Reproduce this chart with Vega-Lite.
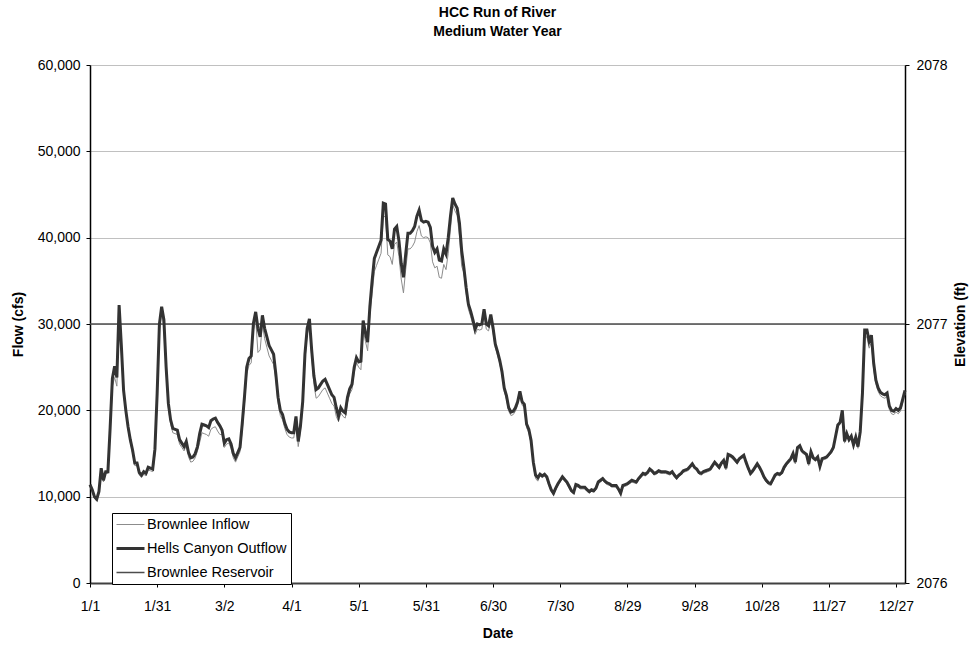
{
"$schema": "https://vega.github.io/schema/vega-lite/v6.json",
"width": 815,
"height": 518,
"autosize": {"type": "none"},
"padding": {"left": 90, "top": 65, "right": 66, "bottom": 66},
"background": "white",
"title": {"text": ["HCC Run of River", "Medium Water Year"], "font": "Liberation Sans", "fontSize": 14, "fontWeight": "bold", "color": "#000", "anchor": "middle", "frame": "group", "baseline": "bottom", "lineHeight": 19, "offset": 5},
"config": {
  "font": "Liberation Sans",
  "view": {"stroke": "#888888", "strokeWidth": 1},
  "axis": {"labelFont": "Liberation Sans", "labelFontSize": 14, "labelColor": "#000", "titleFont": "Liberation Sans", "titleFontSize": 14, "titleFontWeight": "bold", "titleColor": "#000", "tickColor": "#000", "domainColor": "#000", "labelFlush": false, "labelOverlap": false}
},
"datasets": {
  "flow": [
{"date":"2001-01-01","inflow":11200,"outflow":11400},{"date":"2001-01-02","inflow":10600,"outflow":10800},{"date":"2001-01-03","inflow":9800,"outflow":10000},{"date":"2001-01-04","inflow":9500,"outflow":9700},{"date":"2001-01-05","inflow":10400,"outflow":10600},{"date":"2001-01-06","inflow":13100,"outflow":13300},{"date":"2001-01-07","inflow":11700,"outflow":11900},{"date":"2001-01-08","inflow":12700,"outflow":12900},{"date":"2001-01-09","inflow":12700,"outflow":12900},{"date":"2001-01-10","inflow":17400,"outflow":18000},{"date":"2001-01-11","inflow":22800,"outflow":23700},{"date":"2001-01-12","inflow":23800,"outflow":25100},{"date":"2001-01-13","inflow":22800,"outflow":23800},{"date":"2001-01-14","inflow":31400,"outflow":32200},{"date":"2001-01-15","inflow":26800,"outflow":27500},{"date":"2001-01-16","inflow":22000,"outflow":22300},{"date":"2001-01-17","inflow":19700,"outflow":20000},{"date":"2001-01-18","inflow":17800,"outflow":18100},{"date":"2001-01-19","inflow":16300,"outflow":16600},{"date":"2001-01-20","inflow":15100,"outflow":15400},{"date":"2001-01-21","inflow":13600,"outflow":13900},{"date":"2001-01-22","inflow":13600,"outflow":13900},{"date":"2001-01-23","inflow":12500,"outflow":12800},{"date":"2001-01-24","inflow":12200,"outflow":12500},{"date":"2001-01-25","inflow":12600,"outflow":12900},{"date":"2001-01-26","inflow":12400,"outflow":12700},{"date":"2001-01-27","inflow":13100,"outflow":13400},{"date":"2001-01-28","inflow":13000,"outflow":13300},{"date":"2001-01-29","inflow":12900,"outflow":13200},{"date":"2001-01-30","inflow":14900,"outflow":15500},{"date":"2001-01-31","inflow":21400,"outflow":22000},
{"date":"2001-02-01","inflow":29400,"outflow":30000},{"date":"2001-02-02","inflow":31400,"outflow":32000},{"date":"2001-02-03","inflow":29500,"outflow":30500},{"date":"2001-02-04","inflow":24400,"outflow":25000},{"date":"2001-02-05","inflow":20300,"outflow":20800},{"date":"2001-02-06","inflow":18400,"outflow":18900},{"date":"2001-02-07","inflow":17400,"outflow":17900},{"date":"2001-02-08","inflow":17300,"outflow":17800},{"date":"2001-02-09","inflow":17200,"outflow":17700},{"date":"2001-02-10","inflow":16100,"outflow":16600},{"date":"2001-02-11","inflow":15700,"outflow":16200},{"date":"2001-02-12","inflow":15300,"outflow":15800},{"date":"2001-02-13","inflow":15900,"outflow":16400},{"date":"2001-02-14","inflow":14600,"outflow":15100},{"date":"2001-02-15","inflow":14000,"outflow":14500},{"date":"2001-02-16","inflow":14100,"outflow":14600},{"date":"2001-02-17","inflow":14500,"outflow":15000},{"date":"2001-02-18","inflow":15300,"outflow":15800},{"date":"2001-02-19","inflow":16300,"outflow":17300},{"date":"2001-02-20","inflow":17400,"outflow":18400},{"date":"2001-02-21","inflow":17300,"outflow":18300},{"date":"2001-02-22","inflow":17200,"outflow":18200},{"date":"2001-02-23","inflow":17000,"outflow":18000},{"date":"2001-02-24","inflow":17800,"outflow":18800},{"date":"2001-02-25","inflow":18000,"outflow":19000},{"date":"2001-02-26","inflow":18100,"outflow":19100},{"date":"2001-02-27","inflow":17600,"outflow":18600},{"date":"2001-02-28","inflow":17200,"outflow":18200},
{"date":"2001-03-01","inflow":17200,"outflow":17700},{"date":"2001-03-02","inflow":15700,"outflow":16200},{"date":"2001-03-03","inflow":16100,"outflow":16600},{"date":"2001-03-04","inflow":16200,"outflow":16700},{"date":"2001-03-05","inflow":15600,"outflow":16100},{"date":"2001-03-06","inflow":14500,"outflow":15000},{"date":"2001-03-07","inflow":14000,"outflow":14500},{"date":"2001-03-08","inflow":14600,"outflow":15100},{"date":"2001-03-09","inflow":15200,"outflow":15700},{"date":"2001-03-10","inflow":17700,"outflow":18500},{"date":"2001-03-11","inflow":20800,"outflow":21600},{"date":"2001-03-12","inflow":24200,"outflow":25000},{"date":"2001-03-13","inflow":25200,"outflow":26000},{"date":"2001-03-14","inflow":25500,"outflow":26300},{"date":"2001-03-15","inflow":29300,"outflow":30100},{"date":"2001-03-16","inflow":30600,"outflow":31400},{"date":"2001-03-17","inflow":26700,"outflow":29500},{"date":"2001-03-18","inflow":27000,"outflow":28500},{"date":"2001-03-19","inflow":30000,"outflow":31000},{"date":"2001-03-20","inflow":28300,"outflow":29500},{"date":"2001-03-21","inflow":27300,"outflow":28500},{"date":"2001-03-22","inflow":26300,"outflow":27500},{"date":"2001-03-23","inflow":25800,"outflow":27000},{"date":"2001-03-24","inflow":25300,"outflow":26500},{"date":"2001-03-25","inflow":23600,"outflow":24200},{"date":"2001-03-26","inflow":20900,"outflow":21500},{"date":"2001-03-27","inflow":19400,"outflow":20000},{"date":"2001-03-28","inflow":18900,"outflow":19500},{"date":"2001-03-29","inflow":17900,"outflow":18500},{"date":"2001-03-30","inflow":17200,"outflow":17800},{"date":"2001-03-31","inflow":16900,"outflow":17500},
{"date":"2001-04-01","inflow":16800,"outflow":17400},{"date":"2001-04-02","inflow":16800,"outflow":17400},{"date":"2001-04-03","inflow":18700,"outflow":19300},{"date":"2001-04-04","inflow":15800,"outflow":16400},{"date":"2001-04-05","inflow":17600,"outflow":18200},{"date":"2001-04-06","inflow":20400,"outflow":21000},{"date":"2001-04-07","inflow":25800,"outflow":26500},{"date":"2001-04-08","inflow":28800,"outflow":29500},{"date":"2001-04-09","inflow":29900,"outflow":30600},{"date":"2001-04-10","inflow":26300,"outflow":27000},{"date":"2001-04-11","inflow":23000,"outflow":24000},{"date":"2001-04-12","inflow":21400,"outflow":22400},{"date":"2001-04-13","inflow":21600,"outflow":22600},{"date":"2001-04-14","inflow":22000,"outflow":23000},{"date":"2001-04-15","inflow":22400,"outflow":23400},{"date":"2001-04-16","inflow":22600,"outflow":23600},{"date":"2001-04-17","inflow":22000,"outflow":23000},{"date":"2001-04-18","inflow":21400,"outflow":22400},{"date":"2001-04-19","inflow":20800,"outflow":21800},{"date":"2001-04-20","inflow":20500,"outflow":21500},{"date":"2001-04-21","inflow":19300,"outflow":20300},{"date":"2001-04-22","inflow":18700,"outflow":19300},{"date":"2001-04-23","inflow":19700,"outflow":20300},{"date":"2001-04-24","inflow":19300,"outflow":19900},{"date":"2001-04-25","inflow":19100,"outflow":19700},{"date":"2001-04-26","inflow":20900,"outflow":21500},{"date":"2001-04-27","inflow":21900,"outflow":22500},{"date":"2001-04-28","inflow":22400,"outflow":23000},{"date":"2001-04-29","inflow":24400,"outflow":25000},{"date":"2001-04-30","inflow":25500,"outflow":26100},
{"date":"2001-05-01","inflow":25000,"outflow":25600},{"date":"2001-05-02","inflow":24700,"outflow":25700},{"date":"2001-05-03","inflow":29400,"outflow":30400},{"date":"2001-05-04","inflow":28000,"outflow":29000},{"date":"2001-05-05","inflow":26900,"outflow":27900},{"date":"2001-05-06","inflow":31000,"outflow":32000},{"date":"2001-05-07","inflow":33500,"outflow":35000},{"date":"2001-05-08","inflow":36100,"outflow":37600},{"date":"2001-05-09","inflow":36800,"outflow":38300},{"date":"2001-05-10","inflow":37500,"outflow":39000},{"date":"2001-05-11","inflow":38200,"outflow":39700},{"date":"2001-05-12","inflow":42500,"outflow":44000},{"date":"2001-05-13","inflow":42400,"outflow":43900},{"date":"2001-05-14","inflow":38000,"outflow":39800},{"date":"2001-05-15","inflow":37800,"outflow":39600},{"date":"2001-05-16","inflow":36900,"outflow":38700},{"date":"2001-05-17","inflow":39200,"outflow":41000},{"date":"2001-05-18","inflow":39500,"outflow":41300},{"date":"2001-05-19","inflow":37800,"outflow":39600},{"date":"2001-05-20","inflow":35200,"outflow":37000},{"date":"2001-05-21","inflow":33600,"outflow":35400},{"date":"2001-05-22","inflow":36300,"outflow":38100},{"date":"2001-05-23","inflow":38700,"outflow":40500},{"date":"2001-05-24","inflow":38700,"outflow":40500},{"date":"2001-05-25","inflow":39000,"outflow":40800},{"date":"2001-05-26","inflow":39500,"outflow":41300},{"date":"2001-05-27","inflow":40700,"outflow":42500},{"date":"2001-05-28","inflow":41400,"outflow":43200},{"date":"2001-05-29","inflow":40200,"outflow":42000},{"date":"2001-05-30","inflow":40000,"outflow":41800},{"date":"2001-05-31","inflow":40100,"outflow":41900},
{"date":"2001-06-01","inflow":40000,"outflow":41800},{"date":"2001-06-02","inflow":39400,"outflow":41200},{"date":"2001-06-03","inflow":37200,"outflow":39000},{"date":"2001-06-04","inflow":36500,"outflow":38300},{"date":"2001-06-05","inflow":36700,"outflow":38700},{"date":"2001-06-06","inflow":35400,"outflow":37400},{"date":"2001-06-07","inflow":35300,"outflow":37300},{"date":"2001-06-08","inflow":36900,"outflow":38700},{"date":"2001-06-09","inflow":36300,"outflow":38100},{"date":"2001-06-10","inflow":38200,"outflow":40000},{"date":"2001-06-11","inflow":41000,"outflow":42500},{"date":"2001-06-12","inflow":43800,"outflow":44600},{"date":"2001-06-13","inflow":43100,"outflow":43900},{"date":"2001-06-14","inflow":42600,"outflow":43400},{"date":"2001-06-15","inflow":40200,"outflow":41700},{"date":"2001-06-16","inflow":36700,"outflow":38500},{"date":"2001-06-17","inflow":35900,"outflow":36500},{"date":"2001-06-18","inflow":33600,"outflow":34200},{"date":"2001-06-19","inflow":31700,"outflow":32300},{"date":"2001-06-20","inflow":30900,"outflow":31500},{"date":"2001-06-21","inflow":29900,"outflow":30500},{"date":"2001-06-22","inflow":28800,"outflow":29400},{"date":"2001-06-23","inflow":29400,"outflow":30000},{"date":"2001-06-24","inflow":29300,"outflow":29900},{"date":"2001-06-25","inflow":29400,"outflow":30000},{"date":"2001-06-26","inflow":31100,"outflow":31700},{"date":"2001-06-27","inflow":29400,"outflow":30000},{"date":"2001-06-28","inflow":29200,"outflow":29800},{"date":"2001-06-29","inflow":30500,"outflow":31100},{"date":"2001-06-30","inflow":29000,"outflow":29600},
{"date":"2001-07-01","inflow":27300,"outflow":27700},{"date":"2001-07-02","inflow":26400,"outflow":26800},{"date":"2001-07-03","inflow":25400,"outflow":25800},{"date":"2001-07-04","inflow":24100,"outflow":24500},{"date":"2001-07-05","inflow":22200,"outflow":22600},{"date":"2001-07-06","inflow":21300,"outflow":21700},{"date":"2001-07-07","inflow":19900,"outflow":20300},{"date":"2001-07-08","inflow":19400,"outflow":19800},{"date":"2001-07-09","inflow":19500,"outflow":19900},{"date":"2001-07-10","inflow":19900,"outflow":20300},{"date":"2001-07-11","inflow":20600,"outflow":21000},{"date":"2001-07-12","inflow":21800,"outflow":22200},{"date":"2001-07-13","inflow":20600,"outflow":21000},{"date":"2001-07-14","inflow":20300,"outflow":20700},{"date":"2001-07-15","inflow":18000,"outflow":18400},{"date":"2001-07-16","inflow":17400,"outflow":17800},{"date":"2001-07-17","inflow":16100,"outflow":16500},{"date":"2001-07-18","inflow":13600,"outflow":14000},{"date":"2001-07-19","inflow":12100,"outflow":12500},{"date":"2001-07-20","inflow":11800,"outflow":12200},{"date":"2001-07-21","inflow":12400,"outflow":12600},{"date":"2001-07-22","inflow":12200,"outflow":12400},{"date":"2001-07-23","inflow":12400,"outflow":12600},{"date":"2001-07-24","inflow":12100,"outflow":12300},{"date":"2001-07-25","inflow":11300,"outflow":11500},{"date":"2001-07-26","inflow":10600,"outflow":10800},{"date":"2001-07-27","inflow":10200,"outflow":10400},{"date":"2001-07-28","inflow":10800,"outflow":11000},{"date":"2001-07-29","inflow":11300,"outflow":11500},{"date":"2001-07-30","inflow":11700,"outflow":11900},{"date":"2001-07-31","inflow":12100,"outflow":12300},
{"date":"2001-08-01","inflow":11800,"outflow":12000},{"date":"2001-08-02","inflow":11500,"outflow":11700},{"date":"2001-08-03","inflow":11000,"outflow":11200},{"date":"2001-08-04","inflow":10500,"outflow":10700},{"date":"2001-08-05","inflow":10300,"outflow":10500},{"date":"2001-08-06","inflow":11200,"outflow":11400},{"date":"2001-08-07","inflow":11100,"outflow":11300},{"date":"2001-08-08","inflow":10900,"outflow":11100},{"date":"2001-08-09","inflow":10900,"outflow":11100},{"date":"2001-08-10","inflow":10900,"outflow":11100},{"date":"2001-08-11","inflow":10600,"outflow":10800},{"date":"2001-08-12","inflow":10400,"outflow":10600},{"date":"2001-08-13","inflow":10600,"outflow":10800},{"date":"2001-08-14","inflow":10500,"outflow":10700},{"date":"2001-08-15","inflow":10800,"outflow":11000},{"date":"2001-08-16","inflow":11500,"outflow":11700},{"date":"2001-08-17","inflow":11700,"outflow":11900},{"date":"2001-08-18","inflow":11900,"outflow":12100},{"date":"2001-08-19","inflow":11600,"outflow":11800},{"date":"2001-08-20","inflow":11400,"outflow":11600},{"date":"2001-08-21","inflow":11300,"outflow":11500},{"date":"2001-08-22","inflow":11100,"outflow":11300},{"date":"2001-08-23","inflow":11100,"outflow":11300},{"date":"2001-08-24","inflow":11100,"outflow":11300},{"date":"2001-08-25","inflow":10700,"outflow":10900},{"date":"2001-08-26","inflow":10200,"outflow":10400},{"date":"2001-08-27","inflow":11100,"outflow":11300},{"date":"2001-08-28","inflow":11200,"outflow":11400},{"date":"2001-08-29","inflow":11300,"outflow":11500},{"date":"2001-08-30","inflow":11500,"outflow":11700},{"date":"2001-08-31","inflow":11700,"outflow":11900},
{"date":"2001-09-01","inflow":11600,"outflow":11800},{"date":"2001-09-02","inflow":11500,"outflow":11700},{"date":"2001-09-03","inflow":11900,"outflow":12100},{"date":"2001-09-04","inflow":12200,"outflow":12400},{"date":"2001-09-05","inflow":12500,"outflow":12700},{"date":"2001-09-06","inflow":12400,"outflow":12600},{"date":"2001-09-07","inflow":12600,"outflow":12800},{"date":"2001-09-08","inflow":13000,"outflow":13200},{"date":"2001-09-09","inflow":12800,"outflow":13000},{"date":"2001-09-10","inflow":12500,"outflow":12700},{"date":"2001-09-11","inflow":12600,"outflow":12800},{"date":"2001-09-12","inflow":12800,"outflow":13000},{"date":"2001-09-13","inflow":12700,"outflow":12900},{"date":"2001-09-14","inflow":12700,"outflow":12900},{"date":"2001-09-15","inflow":12700,"outflow":12900},{"date":"2001-09-16","inflow":12600,"outflow":12800},{"date":"2001-09-17","inflow":12500,"outflow":12700},{"date":"2001-09-18","inflow":12700,"outflow":12900},{"date":"2001-09-19","inflow":12300,"outflow":12500},{"date":"2001-09-20","inflow":12000,"outflow":12200},{"date":"2001-09-21","inflow":12300,"outflow":12500},{"date":"2001-09-22","inflow":12500,"outflow":12700},{"date":"2001-09-23","inflow":12800,"outflow":13000},{"date":"2001-09-24","inflow":12900,"outflow":13100},{"date":"2001-09-25","inflow":13000,"outflow":13200},{"date":"2001-09-26","inflow":13300,"outflow":13500},{"date":"2001-09-27","inflow":13600,"outflow":13800},{"date":"2001-09-28","inflow":13200,"outflow":13400},{"date":"2001-09-29","inflow":13000,"outflow":13200},{"date":"2001-09-30","inflow":12600,"outflow":12800},
{"date":"2001-10-01","inflow":12500,"outflow":12700},{"date":"2001-10-02","inflow":12700,"outflow":12900},{"date":"2001-10-03","inflow":12800,"outflow":13000},{"date":"2001-10-04","inflow":12900,"outflow":13100},{"date":"2001-10-05","inflow":13000,"outflow":13200},{"date":"2001-10-06","inflow":13400,"outflow":13600},{"date":"2001-10-07","inflow":13800,"outflow":14000},{"date":"2001-10-08","inflow":13500,"outflow":13700},{"date":"2001-10-09","inflow":13200,"outflow":13400},{"date":"2001-10-10","inflow":13700,"outflow":13900},{"date":"2001-10-11","inflow":14000,"outflow":14200},{"date":"2001-10-12","inflow":13100,"outflow":13300},{"date":"2001-10-13","inflow":14700,"outflow":14900},{"date":"2001-10-14","inflow":14600,"outflow":14800},{"date":"2001-10-15","inflow":14400,"outflow":14600},{"date":"2001-10-16","inflow":14100,"outflow":14300},{"date":"2001-10-17","inflow":13800,"outflow":14000},{"date":"2001-10-18","inflow":14200,"outflow":14400},{"date":"2001-10-19","inflow":14400,"outflow":14600},{"date":"2001-10-20","inflow":14600,"outflow":14800},{"date":"2001-10-21","inflow":13800,"outflow":14000},{"date":"2001-10-22","inflow":13100,"outflow":13300},{"date":"2001-10-23","inflow":12500,"outflow":12700},{"date":"2001-10-24","inflow":12800,"outflow":13000},{"date":"2001-10-25","inflow":13200,"outflow":13400},{"date":"2001-10-26","inflow":13600,"outflow":13800},{"date":"2001-10-27","inflow":13200,"outflow":13400},{"date":"2001-10-28","inflow":12700,"outflow":12900},{"date":"2001-10-29","inflow":12100,"outflow":12300},{"date":"2001-10-30","inflow":11700,"outflow":11900},{"date":"2001-10-31","inflow":11400,"outflow":11600},
{"date":"2001-11-01","inflow":11300,"outflow":11500},{"date":"2001-11-02","inflow":11800,"outflow":12000},{"date":"2001-11-03","inflow":12300,"outflow":12500},{"date":"2001-11-04","inflow":12500,"outflow":12700},{"date":"2001-11-05","inflow":12400,"outflow":12600},{"date":"2001-11-06","inflow":12600,"outflow":12800},{"date":"2001-11-07","inflow":13200,"outflow":13400},{"date":"2001-11-08","inflow":13600,"outflow":13800},{"date":"2001-11-09","inflow":13900,"outflow":14100},{"date":"2001-11-10","inflow":14200,"outflow":14400},{"date":"2001-11-11","inflow":14800,"outflow":15000},{"date":"2001-11-12","inflow":13800,"outflow":14000},{"date":"2001-11-13","inflow":15500,"outflow":15700},{"date":"2001-11-14","inflow":15700,"outflow":15900},{"date":"2001-11-15","inflow":15100,"outflow":15300},{"date":"2001-11-16","inflow":14900,"outflow":15100},{"date":"2001-11-17","inflow":14700,"outflow":14900},{"date":"2001-11-18","inflow":13600,"outflow":13800},{"date":"2001-11-19","inflow":15000,"outflow":15200},{"date":"2001-11-20","inflow":14300,"outflow":14500},{"date":"2001-11-21","inflow":14100,"outflow":14300},{"date":"2001-11-22","inflow":14400,"outflow":14600},{"date":"2001-11-23","inflow":13300,"outflow":13500},{"date":"2001-11-24","inflow":14200,"outflow":14400},{"date":"2001-11-25","inflow":14300,"outflow":14500},{"date":"2001-11-26","inflow":14400,"outflow":14600},{"date":"2001-11-27","inflow":14700,"outflow":14900},{"date":"2001-11-28","inflow":15000,"outflow":15200},{"date":"2001-11-29","inflow":15500,"outflow":15700},{"date":"2001-11-30","inflow":16800,"outflow":17000},
{"date":"2001-12-01","inflow":18100,"outflow":18300},{"date":"2001-12-02","inflow":18400,"outflow":18600},{"date":"2001-12-03","inflow":19800,"outflow":20000},{"date":"2001-12-04","inflow":16200,"outflow":16400},{"date":"2001-12-05","inflow":17100,"outflow":17300},{"date":"2001-12-06","inflow":16400,"outflow":16600},{"date":"2001-12-07","inflow":16800,"outflow":17000},{"date":"2001-12-08","inflow":15800,"outflow":16000},{"date":"2001-12-09","inflow":16700,"outflow":16900},{"date":"2001-12-10","inflow":15600,"outflow":15800},{"date":"2001-12-11","inflow":17300,"outflow":17500},{"date":"2001-12-12","inflow":21200,"outflow":22000},{"date":"2001-12-13","inflow":28500,"outflow":29300},{"date":"2001-12-14","inflow":28500,"outflow":29300},{"date":"2001-12-15","inflow":27200,"outflow":28000},{"date":"2001-12-16","inflow":27900,"outflow":28700},{"date":"2001-12-17","inflow":24700,"outflow":25500},{"date":"2001-12-18","inflow":23100,"outflow":23500},{"date":"2001-12-19","inflow":22200,"outflow":22600},{"date":"2001-12-20","inflow":21700,"outflow":22100},{"date":"2001-12-21","inflow":21500,"outflow":21900},{"date":"2001-12-22","inflow":21400,"outflow":21800},{"date":"2001-12-23","inflow":21600,"outflow":22000},{"date":"2001-12-24","inflow":20100,"outflow":20500},{"date":"2001-12-25","inflow":19600,"outflow":20000},{"date":"2001-12-26","inflow":19500,"outflow":19900},{"date":"2001-12-27","inflow":19800,"outflow":20200},{"date":"2001-12-28","inflow":19600,"outflow":20000},{"date":"2001-12-29","inflow":19900,"outflow":20300},{"date":"2001-12-30","inflow":20900,"outflow":21300},{"date":"2001-12-31","inflow":21900,"outflow":22300}
  ],
  "reservoir": [
    {"date": "2001-01-01", "elevation": 2077},
    {"date": "2001-12-31", "elevation": 2077}
  ]
},
"encoding": {
  "x": {
    "field": "date", "type": "temporal",
    "scale": {"type": "utc", "domain": [{"year": 2001, "month": 1, "date": 1, "utc": true}, {"year": 2001, "month": 12, "date": 31, "utc": true}]},
    "axis": {
      "title": "Date", "labelExpr": "utcFormat(datum.value, '%-m/%-d')",
      "values": [
        {"year": 2001, "month": 1, "date": 1, "utc": true},
        {"year": 2001, "month": 1, "date": 31, "utc": true},
        {"year": 2001, "month": 3, "date": 2, "utc": true},
        {"year": 2001, "month": 4, "date": 1, "utc": true},
        {"year": 2001, "month": 5, "date": 1, "utc": true},
        {"year": 2001, "month": 5, "date": 31, "utc": true},
        {"year": 2001, "month": 6, "date": 30, "utc": true},
        {"year": 2001, "month": 7, "date": 30, "utc": true},
        {"year": 2001, "month": 8, "date": 29, "utc": true},
        {"year": 2001, "month": 9, "date": 28, "utc": true},
        {"year": 2001, "month": 10, "date": 28, "utc": true},
        {"year": 2001, "month": 11, "date": 27, "utc": true},
        {"year": 2001, "month": 12, "date": 27, "utc": true}
      ],
      "grid": false, "domainColor": "#404040", "domainWidth": 2, "tickSize": 4, "labelPadding": 12,
      "titleY": 50, "titleBaseline": "middle", "titleX": 407.5
    }
  }
},
"resolve": {"scale": {"y": "independent"}, "axis": {"y": "independent"}},
"layer": [
  {
    "data": {"name": "reservoir"},
    "mark": {"type": "line", "strokeWidth": 1.5},
    "encoding": {
      "y": {"field": "elevation", "type": "quantitative", "scale": {"domain": [2076, 2078], "zero": false, "nice": false},
        "axis": {"orient": "right", "title": "Elevation (ft)", "values": [2076, 2077, 2078], "labelExpr": "format(datum.value, 'd')", "grid": false, "domainWidth": 1.5, "tickSize": 4, "labelPadding": 7, "titleAngle": 270, "titleX": 55, "titleY": 259, "titleBaseline": "middle", "titleAlign": "center"}},
      "color": {"datum": "Brownlee Reservoir", "type": "nominal",
        "scale": {"domain": ["Brownlee Inflow", "Hells Canyon Outflow", "Brownlee Reservoir"], "range": ["#8c8c8c", "#333333", "#4d4d4d"]},
        "legend": {"title": null, "orient": "none", "legendX": 22, "legendY": 448, "strokeColor": "#000", "fillColor": "#fff", "padding": 4, "symbolType": "stroke", "symbolSize": 784, "labelFont": "Liberation Sans", "labelFontSize": 14.5, "labelColor": "#000", "labelOffset": 2, "rowPadding": 8, "clipHeight": 15,
          "encode": {"symbols": {"update": {"strokeWidth": {"signal": "(datum.value === 'Hells Canyon Outflow' ? 3 : (datum.value === 'Brownlee Reservoir' ? 1.5 : 1))"}}}}}
      }
    }
  },
  {
    "data": {"name": "flow"},
    "layer": [
      {
        "mark": {"type": "line", "strokeWidth": 1},
        "encoding": {
          "y": {"field": "inflow", "type": "quantitative", "scale": {"domain": [0, 60000], "nice": false},
            "axis": {"orient": "left", "title": "Flow (cfs)", "values": [0, 10000, 20000, 30000, 40000, 50000, 60000], "labelExpr": "format(datum.value, ',')", "grid": true, "gridColor": "#c0c0c0", "gridWidth": 1, "domainWidth": 1.5, "tickSize": 4, "labelPadding": 6, "titleAngle": 270, "titleX": -72, "titleY": 259, "titleBaseline": "middle", "titleAlign": "center"}},
          "color": {"datum": "Brownlee Inflow", "type": "nominal"}
        }
      },
      {
        "mark": {"type": "line", "strokeWidth": 3},
        "encoding": {
          "y": {"field": "outflow", "type": "quantitative", "scale": {"domain": [0, 60000], "nice": false},
            "axis": {"orient": "left", "title": "Flow (cfs)", "values": [0, 10000, 20000, 30000, 40000, 50000, 60000], "labelExpr": "format(datum.value, ',')", "grid": true, "gridColor": "#c0c0c0", "gridWidth": 1, "domainWidth": 1.5, "tickSize": 4, "labelPadding": 6, "titleAngle": 270, "titleX": -72, "titleY": 259, "titleBaseline": "middle", "titleAlign": "center"}},
          "color": {"datum": "Hells Canyon Outflow", "type": "nominal"}
        }
      }
    ]
  }
]
}
